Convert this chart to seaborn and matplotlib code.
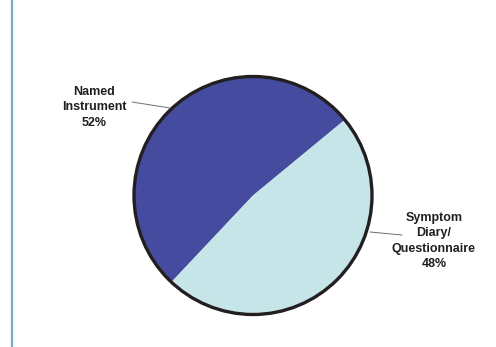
import matplotlib
matplotlib.use("Agg")
import matplotlib.pyplot as plt
from matplotlib.lines import Line2D
import seaborn as sns

categories = ["Named\nInstrument", "Symptom\nDiary/\nQuestionnaire"]
values = [52, 48]
colors = ["#454C9F", "#C6E5E8"]

sns.set_theme(style="white")
plt.rcParams['font.family'] = ['Liberation Sans', 'DejaVu Sans']

W, H = 496, 347
fig = plt.figure(figsize=(W / 100, H / 100), dpi=100)
fig.patch.set_facecolor("white")

# pie axes: centre ~ (253, 195.5) px, radius ~119 px
cx, cy, r = 253, 195.5, 119
ax = fig.add_axes([(cx - r) / W, (H - cy - r) / H, 2 * r / W, 2 * r / H])
ax.pie(values, colors=colors, startangle=39.5, counterclock=True,
       wedgeprops=dict(edgecolor="none"))
circle = plt.Circle((0, 0), 1.0, fill=False, edgecolor="#231F20", lw=2.4)
ax.add_patch(circle)
ax.set_xlim(-1.0, 1.0)
ax.set_ylim(-1.0, 1.0)
ax.set_aspect("auto")
ax.axis("off")
for a in ax.patches:
    a.set_clip_on(False)

def px(x, y):
    return x / W, 1 - y / H

for cat, val, (tx, ty) in zip(categories, values, [(94, 107.5), (434, 241)]):
    fig.text(*px(tx, ty), f"{cat}\n{val}%", ha="center", va="center",
             fontsize=9, fontweight="bold", color="#231F20", linespacing=1.38)

for (x0, y0), (x1, y1) in [((132, 102), (170, 108)), ((370, 232), (402, 235))]:
    a, b = px(x0, y0), px(x1, y1)
    fig.add_artist(Line2D([a[0], b[0]], [a[1], b[1]], transform=fig.transFigure,
                          color="#6D6E71", lw=0.7))

fig.add_artist(Line2D([11.5 / W, 11.5 / W], [0, 1], transform=fig.transFigure,
                      color="#7BA6D4", lw=1.6))

fig.savefig("out.png", dpi=100, facecolor="white")
